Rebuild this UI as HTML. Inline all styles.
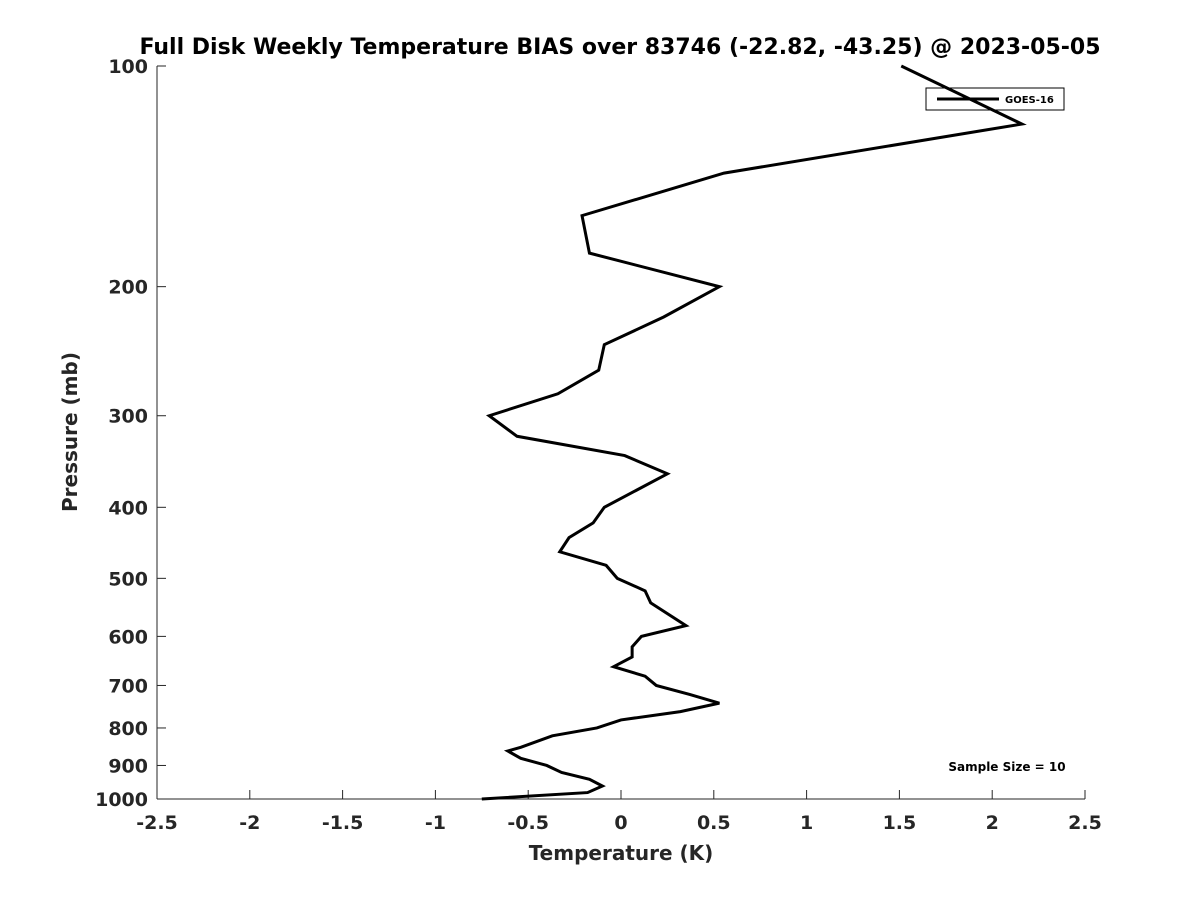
<!DOCTYPE html>
<html><head><meta charset="utf-8"><style>
body{margin:0;background:#fff}
svg{display:block;font-family:"DejaVu Sans","Liberation Sans",sans-serif;font-weight:bold}
</style></head><body>
<svg id="chart" width="1200" height="900">
<rect width="1200" height="900" fill="#fff"/>
<text x="620" y="54" text-anchor="middle" font-size="22" fill="#000">Full Disk Weekly Temperature BIAS over 83746 (-22.82, -43.25) @ 2023-05-05</text>
<g id="axes"></g>
<text x="621" y="860" text-anchor="middle" font-size="20" fill="#262626">Temperature (K)</text>
<text transform="translate(77,432) rotate(-90)" text-anchor="middle" font-size="20" fill="#262626">Pressure (mb)</text>
<g>
<rect x="926" y="88" width="138" height="22" fill="#fff" stroke="#000" stroke-width="1"/>
<line x1="937" y1="99" x2="999" y2="99" stroke="#000" stroke-width="3"/>
<text x="1005" y="103" font-size="10" fill="#000">GOES-16</text>
</g>
<text x="1007" y="771" text-anchor="middle" font-size="12" fill="#000">Sample Size = 10</text>
</svg>
<script>
const temps=[1.51,2.16,0.555,-0.21,-0.17,0.53,0.23,-0.09,-0.12,-0.34,-0.71,-0.56,0.02,0.25,-0.09,-0.15,-0.28,-0.33,-0.08,-0.02,0.13,0.16,0.35,0.11,0.06,0.06,-0.04,0.13,0.19,0.37,0.53,0.32,0.0,-0.13,-0.37,-0.54,-0.61,-0.54,-0.40,-0.32,-0.17,-0.10,-0.18,-0.75];
const pressures=[100,120,140,160,180,200,220,240,260,280,300,320,340,360,400,420,440,460,480,500,520,540,580,600,620,640,660,680,700,720,740,760,780,800,820,850,860,880,900,920,940,960,980,1000];
const xTicks=[-2.5,-2,-1.5,-1,-0.5,0,0.5,1,1.5,2,2.5];
const yTicks=[100,200,300,400,500,600,700,800,900,1000];
const X0=157,X1=1085,Y0=66,Y1=799;
const xs=t=>X0+(t+2.5)/5*(X1-X0);
const ys=p=>Y0+Math.log10(p/100)*(Y1-Y0);
const NS='http://www.w3.org/2000/svg';
const svg=document.getElementById('chart'),ax=document.getElementById('axes');
function mk(tag,attrs,parent){const e=document.createElementNS(NS,tag);for(const k in attrs)e.setAttribute(k,attrs[k]);(parent||ax).appendChild(e);return e;}
let l=mk('line',{x1:X0,y1:Y0,x2:X0,y2:Y1,stroke:'#262626','stroke-width':1});


l=mk('line',{x1:X0,y1:Y1,x2:X1,y2:Y1,stroke:'#262626','stroke-width':1});


xTicks.forEach(t=>{
 mk('line',{x1:xs(t),y1:Y1,x2:xs(t),y2:Y1-9,stroke:'#262626'});
 const tx=mk('text',{x:xs(t),y:829,'text-anchor':'middle','font-size':19,fill:'#262626'});
 tx.textContent=String(t);
 
 
});
yTicks.forEach(p=>{
 mk('line',{x1:X0,y1:ys(p),x2:X0+9,y2:ys(p),stroke:'#262626'});
 const tx=mk('text',{x:148,y:ys(p)+7,'text-anchor':'end','font-size':19,fill:'#262626'});
 tx.textContent=String(p);
 
 
});
const pl=mk('polyline',{points:temps.map((t,i)=>xs(t)+','+ys(pressures[i])).join(' '),fill:'none',stroke:'#000','stroke-width':3,'stroke-linejoin':'miter'},svg);


</script>
</body></html>
